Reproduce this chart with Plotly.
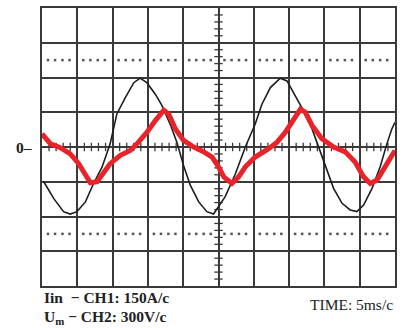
import numpy as np
import plotly.graph_objects as go

# Voltage (CH2) trace, in divisions
volt_t = [0.05, 0.33, 0.61, 0.80, 0.99, 1.23, 1.46, 1.70, 1.93, 2.12, 2.36, 2.60, 2.78, 2.97,
          3.21, 3.40, 3.63, 3.82, 4.01, 4.20, 4.44, 4.67, 4.86, 5.19, 5.48, 5.76, 6.04, 6.23,
          6.47, 6.75, 6.94, 7.18, 7.41, 7.65, 7.84, 8.03, 8.26, 8.50, 8.73, 8.92, 9.11, 9.35,
          9.58, 9.77, 9.91, 10.0]
volt_v = [-1.00, -1.48, -1.86, -1.93, -1.86, -1.58, -1.05, -0.58, 0.09, 0.95, 1.42, 1.85, 1.98, 1.85,
          1.52, 1.19, 0.66, 0.14, -0.53, -1.10, -1.58, -1.86, -1.93, -1.43, -0.77, 0.00, 0.66, 1.23,
          1.71, 1.98, 1.90, 1.47, 1.04, 0.52, 0.00, -0.57, -1.19, -1.62, -1.81, -1.86, -1.67, -1.19,
          -0.57, 0.09, 0.52, 0.71]

# Current (CH1) trace, in divisions
curr_t = [0.0, 0.24, 0.52, 0.80, 1.04, 1.23, 1.37, 1.56, 1.75, 1.93, 2.22, 2.50, 2.69, 2.97,
          3.21, 3.45, 3.59, 3.78, 4.01, 4.30, 4.58, 4.82, 5.00, 5.15, 5.38, 5.57, 5.76, 6.04,
          6.42, 6.66, 6.89, 7.13, 7.32, 7.46, 7.65, 7.93, 8.26, 8.59, 8.87, 9.11, 9.30, 9.49,
          9.68, 9.87, 10.0]
curr_v = [0.38, 0.09, -0.02, -0.20, -0.48, -0.77, -1.03, -1.00, -0.72, -0.48, -0.24, -0.10, 0.09, 0.42,
          0.76, 1.06, 0.95, 0.52, 0.19, 0.00, -0.14, -0.29, -0.57, -0.86, -1.05, -0.86, -0.57, -0.29,
          -0.05, 0.14, 0.42, 0.76, 1.09, 1.00, 0.62, 0.24, 0.00, -0.14, -0.43, -0.86, -1.05, -0.95,
          -0.62, -0.29, -0.10]

label_ch1 = "<b>Iin  − CH1: 150A/c</b>"
label_ch2 = "<b>U<sub>m</sub> − CH2: 300V/c</b>"
label_time = "TIME: 5ms/c"

GRID = "#3a3a3a"
fig = go.Figure()

# graticule decorations: dotted lines at +/-2.5 div
dot_x, dot_y = [], []
for yy in (2.5, -2.5):
    for i in range(10):
        for f in (0.17, 0.37, 0.58, 0.78):
            dot_x.append(i + f)
            dot_y.append(yy)
fig.add_trace(go.Scatter(x=dot_x, y=dot_y, mode="markers",
                         marker=dict(symbol="square", size=2.5, color="#555"),
                         hoverinfo="skip", showlegend=False))

# minor ticks on center axes
tx = [k * 0.2 for k in range(1, 50) if k % 5 != 0]
fig.add_trace(go.Scatter(x=tx, y=[0] * len(tx), mode="markers",
                         marker=dict(symbol="line-ns", size=6, line=dict(width=1.3, color=GRID)),
                         hoverinfo="skip", showlegend=False))
ty = [-4 + k * 0.2 for k in range(1, 40) if k % 5 != 0]
fig.add_trace(go.Scatter(x=[5] * len(ty), y=ty, mode="markers",
                         marker=dict(symbol="line-ew", size=6, line=dict(width=1.3, color=GRID)),
                         hoverinfo="skip", showlegend=False))

fig.add_trace(go.Scatter(x=volt_t, y=volt_v, mode="lines",
                         line=dict(color="#1e1e1e", width=1.6), showlegend=False))
fig.add_trace(go.Scatter(x=curr_t, y=curr_v, mode="lines",
                         line=dict(color="#e8242a", width=5), showlegend=False))

fig.update_xaxes(range=[0, 10], dtick=1, showticklabels=False, ticks="",
                 showgrid=True, gridcolor=GRID, gridwidth=1.5, zeroline=False,
                 showline=True, mirror=True, linecolor=GRID, linewidth=1.5)
fig.update_yaxes(range=[-4, 4], dtick=1, showticklabels=False, ticks="",
                 showgrid=True, gridcolor=GRID, gridwidth=1.5, zeroline=False,
                 showline=True, mirror=True, linecolor=GRID, linewidth=1.5)

fnt = dict(family="Liberation Serif", size=15.5, color="#222")
fig.add_annotation(x=0, y=-4, xref="paper", yref="y", text=label_ch1, showarrow=False,
                   xanchor="left", yanchor="middle", yshift=-11, font=fnt)
fig.add_annotation(x=0, y=-4, xref="paper", yref="y", text=label_ch2, showarrow=False,
                   xanchor="left", yanchor="middle", yshift=-31, font=fnt)
fig.add_annotation(x=1, y=-4, xref="paper", yref="y", text=label_time, showarrow=False,
                   xanchor="right", yanchor="middle", yshift=-18,
                   font=dict(family="Liberation Serif", size=15.5, color="#222"))
fig.add_annotation(x=0, y=0, xref="paper", yref="y", text="<b>0–</b>", showarrow=False,
                   xanchor="right", yanchor="middle", xshift=-8, font=fnt)

fig.update_layout(width=405, height=328, margin=dict(l=42, r=10, t=6, b=42),
                  paper_bgcolor="white", plot_bgcolor="white")
fig.write_html("out.html", config={"displayModeBar": False},
               post_script="document.body.style.margin='0';document.body.style.overflow='hidden';")
